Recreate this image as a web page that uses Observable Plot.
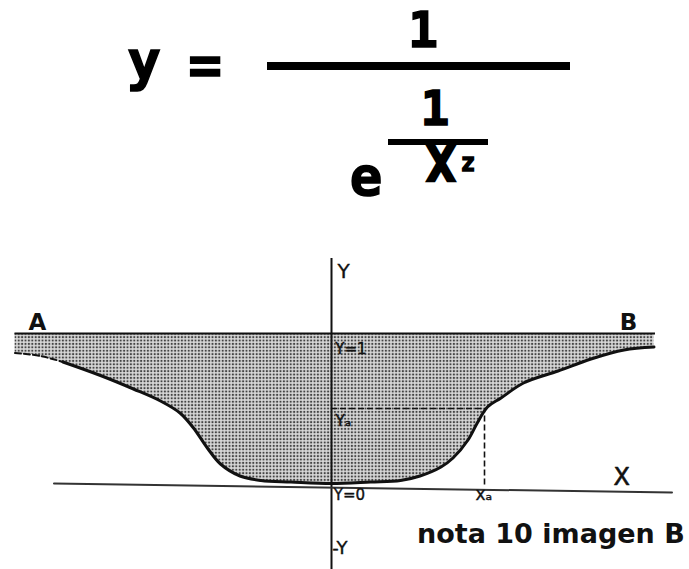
<!DOCTYPE html>
<html>
<head>
<meta charset="utf-8">
<script src="https://cdn.jsdelivr.net/npm/d3@7"></script>
<script src="https://cdn.jsdelivr.net/npm/@observablehq/plot@0.6"></script>
<style>
  html, body { margin: 0; padding: 0; background: #fff; }
  #wrap { width: 689px; height: 569px; overflow: hidden; }
  svg { display: block; }
</style>
</head>
<body>
<div id="wrap"></div>
<script>
// ---- data (x: Y axis = 0, y: X axis = 0, line AB = 1) ----
const curveX = [-2.11, -1.94, -1.79, -1.54, -1.32, -1.14, -1.01, -0.92, -0.83, -0.74, -0.61, -0.47, -0.27, 0, 0.26, 0.46, 0.59, 0.73, 0.81, 0.91, 0.97, 1.04, 1.13, 1.28, 1.51, 1.73, 1.95, 2.15];
const curveY = [0.87, 0.85, 0.81, 0.72, 0.63, 0.55, 0.47, 0.37, 0.24, 0.13, 0.05, 0.02, 0.01, 0, 0.01, 0.02, 0.05, 0.11, 0.17, 0.29, 0.40, 0.51, 0.57, 0.67, 0.75, 0.83, 0.89, 0.91];
const lineAB = { y: 1, x1: -2.11, x2: 2.16 };
const xAxisEnds = [{ x: -1.85, y: 0.0 }, { x: 2.27, y: -0.06 }];
const yAxisSpan = { y1: -0.58, y2: 1.5 };
const pointA = { xa: 1.02, ya: 0.5 };
const labelTexts = ["A", "B", "Y", "Y=1", "Yₐ", "Y=0", "xₐ", "X", "-Y", "nota 10 imagen B"];

// ---- header: the formula ----
const head = d3.create("svg").attr("width", 689).attr("height", 230);
const ft = (x, y, s, size, sw) => head.append("text")
  .attr("x", x).attr("y", y).attr("text-anchor", "middle")
  .attr("font-family", "'DejaVu Sans Mono', 'Liberation Mono', monospace")
  .attr("font-weight", "bold").attr("font-size", size)
  .attr("stroke", "#000").attr("stroke-width", sw || 1.5).attr("fill", "#000")
  .text(s);
ft(144, 80, "y", 56);
ft(205, 84, "=", 56);
ft(423, 47, "1", 50);
head.append("rect").attr("x", 267).attr("y", 62).attr("width", 303).attr("height", 8).attr("fill", "#000");
ft(366, 195, "e", 54);
ft(435, 125, "1", 48);
head.append("rect").attr("x", 388).attr("y", 139).attr("width", 100).attr("height", 6).attr("fill", "#000");
ft(441, 181, "X", 48, 2.5);
ft(468, 171, "z", 24, 1.5);
document.getElementById("wrap").appendChild(head.node());

// ---- chart ----
const curve = curveX.map((x, i) => ({ x, y: curveY[i] }));
const W = 689, H = 339;
const xDomain = [-331 / 150, 358 / 150];
const yDomain = [-86 / 150, 253 / 150];

const labels = [
  { t: labelTexts[0], x: -1.96, y: 1.07, s: 23, a: "middle" },
  { t: labelTexts[1], x: 1.98, y: 1.07, s: 23, a: "middle" },
  { t: labelTexts[2], x: 0.04, y: 1.41, s: 20, a: "start" },
  { t: labelTexts[3], x: 0.025, y: 0.895, s: 15, a: "start" },
  { t: labelTexts[4], x: 0.025, y: 0.42, s: 16, a: "start" },
  { t: labelTexts[5], x: 0.015, y: -0.075, s: 15, a: "start" },
  { t: labelTexts[6], x: 0.96, y: -0.075, s: 17, a: "start" },
  { t: labelTexts[7], x: 1.88, y: 0.04, s: 24, a: "start2" },
  { t: labelTexts[8], x: 0.005, y: -0.43, s: 18, a: "start" },
  { t: labelTexts[9], x: 0.57, y: -0.34, s: 27, a: "big" }
];

const chart = Plot.plot({
  width: W, height: H,
  marginTop: 0, marginRight: 0, marginBottom: 0, marginLeft: 0,
  x: { domain: xDomain, axis: null },
  y: { domain: yDomain, axis: null },
  style: { background: "#fff", fontFamily: "'DejaVu Sans', sans-serif" },
  marks: [
    Plot.areaY(curve, { x: "x", y1: "y", y2: lineAB.y, fill: "url(#dots)", curve: "catmull-rom" }),
    Plot.ruleY([lineAB.y], { x1: lineAB.x1, x2: lineAB.x2, stroke: "#111", strokeWidth: 2 }),
    Plot.ruleX([0], { y1: yAxisSpan.y1, y2: yAxisSpan.y2, stroke: "#111", strokeWidth: 2 }),
    Plot.line(xAxisEnds, { x: "x", y: "y", stroke: "#333", strokeWidth: 2 }),
    Plot.line(curve.slice(0, 3), { x: "x", y: "y", stroke: "#111", strokeWidth: 2, strokeDasharray: "6,3", curve: "catmull-rom" }),
    Plot.line(curve.slice(2), { x: "x", y: "y", stroke: "#111", strokeWidth: 3, curve: "catmull-rom" }),
    Plot.ruleY([pointA.ya], { x1: 0, x2: pointA.xa, stroke: "#111", strokeWidth: 1.6, strokeDasharray: "6,3" }),
    Plot.ruleX([pointA.xa], { y1: -0.01, y2: pointA.ya, stroke: "#111", strokeWidth: 1.6, strokeDasharray: "6,3" }),
    Plot.text(labels.filter(d => d.a === "middle"), { x: "x", y: "y", text: "t", fontSize: d => d.s, fontWeight: "bold", textAnchor: "middle", fill: "#111" }),
    Plot.text(labels.filter(d => d.a === "start"), { x: "x", y: "y", text: "t", fontSize: d => d.s, textAnchor: "start", fill: "#111", stroke: "#111", strokeWidth: 0.4 }),
    Plot.text(labels.filter(d => d.a === "start2"), { x: "x", y: "y", text: "t", fontSize: d => d.s, textAnchor: "start", fill: "#111", stroke: "#111", strokeWidth: 0.6 }),
    Plot.text(labels.filter(d => d.a === "big"), { x: "x", y: "y", text: "t", fontSize: d => d.s, fontWeight: "bold", textAnchor: "start", fill: "#111" })
  ]
});

// dotted stipple fill
const svgSel = d3.select(chart.tagName.toLowerCase() === "svg" ? chart : chart.querySelector("svg"));
const defs = svgSel.insert("defs", ":first-child");
const pat = defs.append("pattern").attr("id", "dots").attr("patternUnits", "userSpaceOnUse")
  .attr("width", 3.4).attr("height", 3.4);
pat.append("rect").attr("width", 3.4).attr("height", 3.4).attr("fill", "#d8d8d8");
pat.append("circle").attr("cx", 1.7).attr("cy", 1.7).attr("r", 1.1).attr("fill", "#444");

document.getElementById("wrap").appendChild(chart);
</script>
</body>
</html>
